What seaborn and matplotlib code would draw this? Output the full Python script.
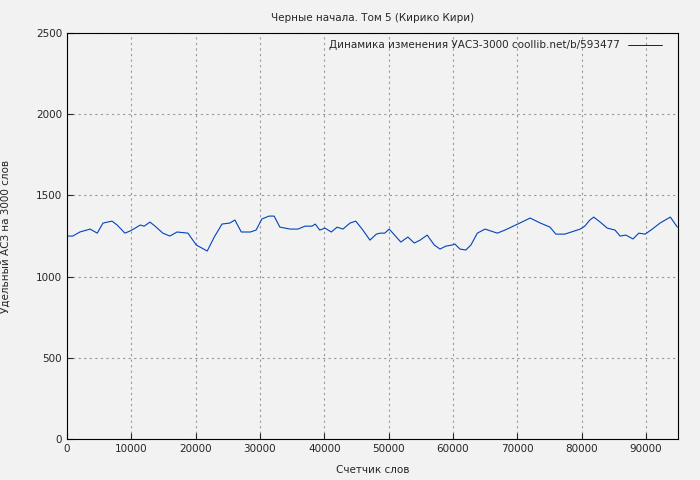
import matplotlib
matplotlib.use('Agg')
import matplotlib.pyplot as plt
import seaborn as sns

words = [0, 900, 2000, 3600, 4700, 5600, 7000, 7800, 9000, 9800, 10600, 11400, 12000, 12900,
         13700, 14900, 16000, 17100, 18800, 20100, 21800, 22900, 24100, 25300, 26100, 27100,
         28500, 29400, 30300, 31400, 32200, 33100, 34700, 35900, 37000, 38100, 38600, 39300,
         40100, 41100, 42000, 42900, 44000, 44900, 46000, 47100, 48100, 48700, 49400, 50100,
         51200, 51900, 53000, 54000, 54900, 56000, 57100, 58000, 58900, 59900, 60300, 61100,
         62000, 62800, 63800, 65000, 66900, 68100, 70400, 72000, 73600, 75100, 76000, 77400,
         79800, 80500, 81300, 81900, 82900, 84000, 85200, 86000, 86900, 88000, 88900, 89900,
         91000, 92200, 93800, 94900]
uasz = [1250, 1250, 1275, 1293, 1268, 1330, 1342, 1318, 1268, 1281, 1299, 1318, 1311, 1336,
        1311, 1268, 1250, 1275, 1268, 1195, 1158, 1244, 1324, 1330, 1349, 1275,
        1275, 1287, 1355, 1373, 1373, 1305, 1293, 1293, 1311, 1311, 1324, 1287,
        1299, 1275, 1305, 1293, 1330, 1342, 1287, 1225, 1262, 1268, 1268, 1293,
        1244, 1213, 1244, 1207, 1225, 1256, 1195, 1170, 1188, 1195, 1201, 1170,
        1164, 1195, 1268, 1293, 1268, 1287, 1330, 1361, 1330, 1305, 1262, 1262,
        1293, 1311, 1349, 1367, 1336, 1299, 1287, 1250, 1256, 1232, 1268, 1262,
        1293, 1330, 1367, 1305]

sns.set_style('ticks')
plt.rcParams['font.family'] = ['DejaVu Sans']
fig = plt.figure(figsize=(7, 4.8), dpi=100, facecolor='#f2f2f2')
ax = fig.add_axes([0.0957, 0.0854, 0.8729, 0.8456])
ax.set_facecolor('#f2f2f2')

sns.lineplot(x=words, y=uasz, ax=ax, color='#0044bb', linewidth=0.8,
             label='Динамика изменения УАСЗ-3000 coollib.net/b/593477')

ax.set_xlim(0, 95000)
ax.set_ylim(0, 2500)
ax.set_xticks(range(0, 95000, 10000))
ax.set_yticks(range(0, 2501, 500))
ax.grid(True, color='#999999', linestyle=(0, (2, 3)), linewidth=0.8)
ax.tick_params(labelsize=7.5, direction='in', length=4)
for s in ax.spines.values():
    s.set_color('black')
ax.set_xlabel('Счетчик слов', fontsize=7.5, labelpad=8)
ax.set_ylabel('Удельный АСЗ на 3000 слов', fontsize=7.5, labelpad=18)
ax.set_title('Черные начала. Том 5 (Кирико Кири)', fontsize=7.5, pad=9)
leg = ax.legend(loc='upper right', fontsize=7.5, frameon=False, markerfirst=False,
                borderaxespad=0.3, handlelength=3.2, bbox_to_anchor=(0.985, 1))
for line in leg.get_lines():
    line.set_color('black')
    line.set_linewidth(0.6)

fig.savefig('out.png', dpi=100, facecolor='#f2f2f2')
